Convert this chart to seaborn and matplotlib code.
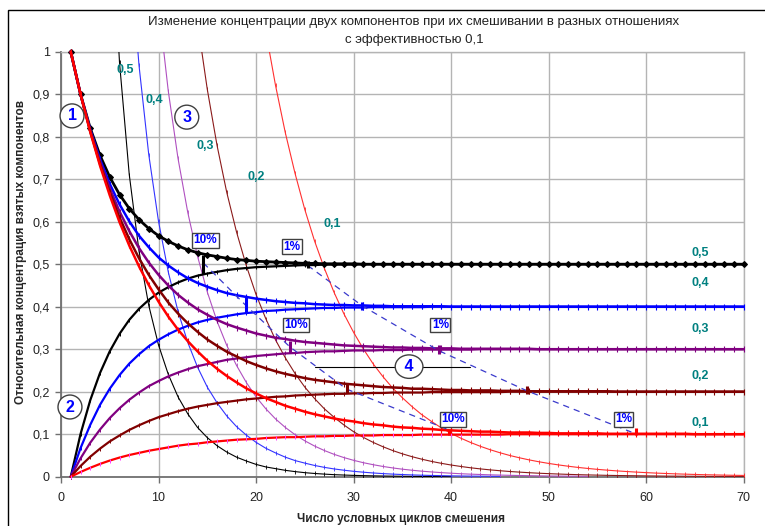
import numpy as np
import matplotlib
matplotlib.use("Agg")
import matplotlib.pyplot as plt
import seaborn as sns
from matplotlib.patches import Rectangle

# --- data ---------------------------------------------------------------
cycles = list(range(1, 71))
ratio_labels = ["0,5", "0,4", "0,3", "0,2", "0,1"]
ratio_colors = ["#000000", "#0000ff", "#800080", "#800000", "#ff0000"]
thin_colors = ["#000000", "#3333ff", "#b050c0", "#8b1a1a", "#ff3030"]

# concentration of the component that starts at 1 (falling curves)
down_05 = [1.000, 0.900, 0.820, 0.756, 0.705, 0.664, 0.631, 0.605, 0.584, 0.567,
           0.554, 0.543, 0.534, 0.527, 0.522, 0.518, 0.514, 0.511, 0.509, 0.507,
           0.506, 0.505, 0.504, 0.503, 0.502, 0.502, 0.501, 0.501, 0.501, 0.501,
           0.500, 0.500, 0.500, 0.500, 0.500, 0.500, 0.500, 0.500, 0.500, 0.500,
           0.500, 0.500, 0.500, 0.500, 0.500, 0.500, 0.500, 0.500, 0.500, 0.500,
           0.500, 0.500, 0.500, 0.500, 0.500, 0.500, 0.500, 0.500, 0.500, 0.500,
           0.500, 0.500, 0.500, 0.500, 0.500, 0.500, 0.500, 0.500, 0.500, 0.500]
down_04 = [1.000, 0.900, 0.817, 0.747, 0.689, 0.641, 0.601, 0.567, 0.540, 0.516,
           0.497, 0.481, 0.467, 0.456, 0.447, 0.439, 0.432, 0.427, 0.423, 0.419,
           0.416, 0.413, 0.411, 0.409, 0.408, 0.406, 0.405, 0.404, 0.404, 0.403,
           0.403, 0.402, 0.402, 0.401, 0.401, 0.401, 0.401, 0.401, 0.401, 0.400,
           0.400, 0.400, 0.400, 0.400, 0.400, 0.400, 0.400, 0.400, 0.400, 0.400,
           0.400, 0.400, 0.400, 0.400, 0.400, 0.400, 0.400, 0.400, 0.400, 0.400,
           0.400, 0.400, 0.400, 0.400, 0.400, 0.400, 0.400, 0.400, 0.400, 0.400]
down_03 = [1.000, 0.900, 0.814, 0.741, 0.678, 0.624, 0.578, 0.538, 0.504, 0.475,
           0.450, 0.428, 0.410, 0.394, 0.381, 0.369, 0.359, 0.351, 0.344, 0.337,
           0.332, 0.327, 0.324, 0.320, 0.317, 0.315, 0.313, 0.311, 0.309, 0.308,
           0.307, 0.306, 0.305, 0.304, 0.304, 0.303, 0.303, 0.302, 0.302, 0.302,
           0.301, 0.301, 0.301, 0.301, 0.301, 0.301, 0.301, 0.301, 0.300, 0.300,
           0.300, 0.300, 0.300, 0.300, 0.300, 0.300, 0.300, 0.300, 0.300, 0.300,
           0.300, 0.300, 0.300, 0.300, 0.300, 0.300, 0.300, 0.300, 0.300, 0.300]
down_02 = [1.000, 0.900, 0.813, 0.736, 0.669, 0.610, 0.559, 0.514, 0.475, 0.441,
           0.410, 0.384, 0.361, 0.341, 0.323, 0.308, 0.294, 0.283, 0.272, 0.263,
           0.255, 0.248, 0.242, 0.237, 0.232, 0.228, 0.225, 0.222, 0.219, 0.217,
           0.215, 0.213, 0.211, 0.210, 0.209, 0.207, 0.207, 0.206, 0.205, 0.204,
           0.204, 0.203, 0.203, 0.203, 0.202, 0.202, 0.202, 0.201, 0.201, 0.201,
           0.201, 0.201, 0.201, 0.201, 0.201, 0.201, 0.200, 0.200, 0.200, 0.200,
           0.200, 0.200, 0.200, 0.200, 0.200, 0.200, 0.200, 0.200, 0.200, 0.200]
down_01 = [1.000, 0.900, 0.811, 0.732, 0.662, 0.599, 0.544, 0.495, 0.451, 0.412,
           0.377, 0.346, 0.319, 0.295, 0.273, 0.254, 0.237, 0.222, 0.208, 0.196,
           0.185, 0.176, 0.167, 0.160, 0.153, 0.147, 0.142, 0.137, 0.133, 0.130,
           0.126, 0.123, 0.121, 0.118, 0.116, 0.115, 0.113, 0.112, 0.110, 0.109,
           0.108, 0.107, 0.106, 0.106, 0.105, 0.104, 0.104, 0.104, 0.103, 0.103,
           0.102, 0.102, 0.102, 0.102, 0.102, 0.101, 0.101, 0.101, 0.101, 0.101,
           0.101, 0.101, 0.101, 0.101, 0.100, 0.100, 0.100, 0.100, 0.100, 0.100]

# concentration of the component that starts at 0 (rising curves)
up_05 = [0.000, 0.100, 0.180, 0.244, 0.295, 0.336, 0.369, 0.395, 0.416, 0.433,
         0.446, 0.457, 0.466, 0.473, 0.478, 0.482, 0.486, 0.489, 0.491, 0.493,
         0.494, 0.495, 0.496, 0.497, 0.498, 0.498, 0.499, 0.499, 0.499, 0.499,
         0.500, 0.500, 0.500, 0.500, 0.500, 0.500, 0.500, 0.500, 0.500, 0.500,
         0.500, 0.500, 0.500, 0.500, 0.500, 0.500, 0.500, 0.500, 0.500, 0.500,
         0.500, 0.500, 0.500, 0.500, 0.500, 0.500, 0.500, 0.500, 0.500, 0.500,
         0.500, 0.500, 0.500, 0.500, 0.500, 0.500, 0.500, 0.500, 0.500, 0.500]
up_04 = [0.000, 0.067, 0.122, 0.169, 0.207, 0.239, 0.266, 0.288, 0.307, 0.322,
         0.335, 0.346, 0.355, 0.363, 0.369, 0.374, 0.378, 0.382, 0.385, 0.387,
         0.390, 0.391, 0.393, 0.394, 0.395, 0.396, 0.397, 0.397, 0.398, 0.398,
         0.398, 0.399, 0.399, 0.399, 0.399, 0.399, 0.399, 0.400, 0.400, 0.400,
         0.400, 0.400, 0.400, 0.400, 0.400, 0.400, 0.400, 0.400, 0.400, 0.400,
         0.400, 0.400, 0.400, 0.400, 0.400, 0.400, 0.400, 0.400, 0.400, 0.400,
         0.400, 0.400, 0.400, 0.400, 0.400, 0.400, 0.400, 0.400, 0.400, 0.400]
up_03 = [0.000, 0.043, 0.080, 0.111, 0.138, 0.161, 0.181, 0.198, 0.213, 0.225,
         0.236, 0.245, 0.253, 0.260, 0.265, 0.270, 0.275, 0.278, 0.281, 0.284,
         0.286, 0.288, 0.290, 0.291, 0.293, 0.294, 0.295, 0.295, 0.296, 0.297,
         0.297, 0.297, 0.298, 0.298, 0.298, 0.299, 0.299, 0.299, 0.299, 0.299,
         0.299, 0.299, 0.300, 0.300, 0.300, 0.300, 0.300, 0.300, 0.300, 0.300,
         0.300, 0.300, 0.300, 0.300, 0.300, 0.300, 0.300, 0.300, 0.300, 0.300,
         0.300, 0.300, 0.300, 0.300, 0.300, 0.300, 0.300, 0.300, 0.300, 0.300]
up_02 = [0.000, 0.025, 0.047, 0.066, 0.083, 0.097, 0.110, 0.121, 0.131, 0.140,
         0.147, 0.154, 0.160, 0.165, 0.169, 0.173, 0.176, 0.179, 0.182, 0.184,
         0.186, 0.188, 0.189, 0.191, 0.192, 0.193, 0.194, 0.195, 0.195, 0.196,
         0.196, 0.197, 0.197, 0.198, 0.198, 0.198, 0.198, 0.199, 0.199, 0.199,
         0.199, 0.199, 0.199, 0.199, 0.199, 0.200, 0.200, 0.200, 0.200, 0.200,
         0.200, 0.200, 0.200, 0.200, 0.200, 0.200, 0.200, 0.200, 0.200, 0.200,
         0.200, 0.200, 0.200, 0.200, 0.200, 0.200, 0.200, 0.200, 0.200, 0.200]
up_01 = [0.000, 0.011, 0.021, 0.030, 0.038, 0.045, 0.051, 0.056, 0.061, 0.065,
         0.069, 0.073, 0.076, 0.078, 0.081, 0.083, 0.085, 0.087, 0.088, 0.089,
         0.091, 0.092, 0.093, 0.093, 0.094, 0.095, 0.095, 0.096, 0.096, 0.097,
         0.097, 0.097, 0.098, 0.098, 0.098, 0.098, 0.099, 0.099, 0.099, 0.099,
         0.099, 0.099, 0.099, 0.099, 0.099, 0.100, 0.100, 0.100, 0.100, 0.100,
         0.100, 0.100, 0.100, 0.100, 0.100, 0.100, 0.100, 0.100, 0.100, 0.100,
         0.100, 0.100, 0.100, 0.100, 0.100, 0.100, 0.100, 0.100, 0.100, 0.100]

# relative difference between the two components (thin curves), from first cycle shown
thin_first_cycle = [5, 7, 9, 13, 20]
thin_05 = [1.388, 0.975, 0.711, 0.531, 0.403, 0.310, 0.241, 0.188, 0.148, 0.116,
           0.092, 0.073, 0.058, 0.046, 0.037, 0.029, 0.023, 0.019, 0.015, 0.012,
           0.0095, 0.0076, 0.0061, 0.0048, 0.0039, 0.0031, 0.0025, 0.0020, 0.0016, 0.0013,
           0.0010, 0.0008, 0.0006, 0.0005, 0.0004, 0.0003]
thin_04 = [1.259, 0.968, 0.758, 0.601, 0.482, 0.389, 0.316, 0.258, 0.211, 0.174,
           0.143, 0.118, 0.098, 0.081, 0.067, 0.056, 0.046, 0.038, 0.032, 0.0265,
           0.0220, 0.0183, 0.0153, 0.0127, 0.0106, 0.0088, 0.0073, 0.0061, 0.0051, 0.0042,
           0.0035, 0.0029, 0.0025, 0.0020, 0.0017, 0.0014, 0.0012, 0.0010, 0.0008]
thin_03 = [1.370, 1.110, 0.908, 0.749, 0.622, 0.519, 0.435, 0.366, 0.309, 0.262,
           0.222, 0.188, 0.160, 0.136, 0.116, 0.099, 0.0845, 0.0722, 0.0617, 0.0527,
           0.0451, 0.0386, 0.0330, 0.0283, 0.0242, 0.0207, 0.0177, 0.0152, 0.0130, 0.0112,
           0.0096, 0.0082, 0.0070, 0.0060, 0.0052, 0.0044, 0.0038, 0.0032, 0.0028, 0.0024,
           0.0020, 0.0017, 0.0015, 0.0013, 0.0011, 0.0009]
thin_02 = [1.261, 1.070, 0.912, 0.780, 0.669, 0.576, 0.497, 0.429, 0.372, 0.322,
           0.280, 0.243, 0.211, 0.184, 0.160, 0.140, 0.122, 0.106, 0.0927, 0.0809,
           0.0707, 0.0617, 0.0539, 0.0471, 0.0412, 0.0360, 0.0315, 0.0275, 0.0241, 0.0210,
           0.0184, 0.0161, 0.0141, 0.0123, 0.0108, 0.0094, 0.0082, 0.0072, 0.0063, 0.0055,
           0.0048, 0.0042, 0.0037, 0.0032, 0.0028, 0.0025, 0.0022, 0.0019, 0.0017, 0.0014,
           0.0013, 0.0011, 0.0010, 0.0008, 0.0007, 0.0006, 0.0006, 0.0005]
thin_01 = [1.194, 1.048, 0.921, 0.810, 0.714, 0.629, 0.555, 0.491, 0.434, 0.384,
           0.340, 0.301, 0.266, 0.236, 0.209, 0.186, 0.165, 0.146, 0.130, 0.115,
           0.102, 0.0907, 0.0806, 0.0716, 0.0636, 0.0565, 0.0501, 0.0446, 0.0396, 0.0352,
           0.0313, 0.0278, 0.0247, 0.0219, 0.0195, 0.0173, 0.0154, 0.0137, 0.0122, 0.0108,
           0.0096, 0.0085, 0.0076, 0.0067, 0.0060, 0.0053, 0.0047, 0.0042, 0.0037, 0.0033,
           0.0030]

# cycles where the difference drops to 10% and to 1%
p10_x = [14.6, 19.0, 23.5, 29.3, 39.8]
p10_y = [0.503, 0.402, 0.305, 0.206, 0.110]
bar10_lo = [0.477, 0.385, 0.292, 0.197, 0.099]
bar10_hi = [0.522, 0.423, 0.320, 0.221, 0.110]
p1_x = [25.3, 30.9, 38.8, 47.8, 58.5]
p1_y = [0.497, 0.402, 0.296, 0.202, 0.105]
bar1_x = [25.3, 30.9, 38.8, 47.8, 59.0]
bar1_lo = [0.491, 0.393, 0.289, 0.195, 0.097]
bar1_hi = [0.508, 0.410, 0.311, 0.213, 0.114]

callout4_x = [26.0, 41.9]
callout4_y = [0.259, 0.259]

downs = [down_05, down_04, down_03, down_02, down_01]
ups = [up_05, up_04, up_03, up_02, up_01]
thins = [thin_05, thin_04, thin_03, thin_02, thin_01]

# --- figure ----------------------------------------------------------------
sns.set_theme(style="white")
plt.rcParams["font.family"] = ["Liberation Sans", "DejaVu Sans"]

W, H = 765, 526
fig = plt.figure(figsize=(W / 100, H / 100), dpi=100)
ax = fig.add_axes([61 / W, 1 - 476.7 / H, (743.5 - 61) / W, (476.7 - 51.7) / H])

grid_col = "#b4b4b4"
ax.set_xlim(0, 70)
ax.set_ylim(0, 1)
ax.set_xticks(np.arange(0, 71, 10))
yt = np.round(np.arange(0, 1.01, 0.1), 1)
ax.set_yticks(yt)
ax.set_yticklabels([("%g" % v).replace(".", ",") for v in yt])
ax.grid(True, color=grid_col, lw=1)
ax.set_axisbelow(True)
for s in ["top", "right"]:
    ax.spines[s].set_color(grid_col)
    ax.spines[s].set_linewidth(1)
for s in ["left", "bottom"]:
    ax.spines[s].set_color("#707070")
    ax.spines[s].set_linewidth(1.3)
ax.tick_params(axis="both", direction="out", length=4, width=1, color="#707070",
               labelsize=9, labelcolor="#222222", pad=4,
               left=True, bottom=True)
ax.tick_params(axis="x", pad=7)

# thin curves
for first, vals, col in zip(thin_first_cycle, thins, thin_colors):
    xs = np.arange(first, first + len(vals))
    sns.lineplot(x=xs, y=vals, ax=ax, color=col, lw=0.8, marker="|",
                 markersize=2.5, markeredgecolor=col, markeredgewidth=0.6,
                 estimator=None, zorder=3)

# rising curves
for i, (vals, col) in enumerate(zip(ups, ratio_colors)):
    mec = "#ff40ff" if i == 4 else col
    sns.lineplot(x=cycles, y=vals, ax=ax, color=col, lw=1.6, marker="|",
                 markersize=3, markeredgecolor=mec, markeredgewidth=0.7,
                 estimator=None, zorder=4, clip_on=False)

# falling curves
for i, (vals, col) in enumerate(zip(downs, ratio_colors)):
    if i == 0:
        mk, ms, lw = "D", 3.0, 2.0
    else:
        mk, ms, lw = "|", 4, 1.8
    sns.lineplot(x=cycles, y=vals, ax=ax, color=col, lw=lw, marker=mk,
                 markersize=ms, markeredgecolor=col, markerfacecolor=col,
                 markeredgewidth=0.8, estimator=None, zorder=5, clip_on=False)

# 10% and 1% guide lines
sns.lineplot(x=p10_x, y=p10_y, ax=ax, color="#3a3acc", lw=0.9, sort=False,
             linestyle=(0, (5, 4)), estimator=None, zorder=6)
sns.lineplot(x=p1_x, y=p1_y, ax=ax, color="#3a3acc", lw=0.9, sort=False,
             linestyle=(0, (5, 4)), estimator=None, zorder=6)
ax.vlines(p10_x, bar10_lo, bar10_hi, colors=ratio_colors, lw=2.2, zorder=7)
ax.vlines(bar1_x, bar1_lo, bar1_hi, colors=ratio_colors, lw=2.2, zorder=7)

# annotation boxes
box = dict(boxstyle="square,pad=0.12", fc="white", ec="#404040", lw=1)
pct_font = dict(color="#0000ff", fontsize=8.5, fontweight="bold", ha="center",
                va="center", bbox=box, zorder=9)
ax.text(14.8, 0.556, "10%", **pct_font)
ax.text(23.7, 0.541, "1%", **pct_font)
ax.text(24.1, 0.357, "10%", **pct_font)
ax.text(38.9, 0.357, "1%", **pct_font)
ax.text(40.2, 0.135, "10%", **pct_font)
ax.text(57.7, 0.135, "1%", **pct_font)

circ_font = dict(color="#0000ff", fontsize=11.5, fontweight="bold", ha="center",
                 va="center", zorder=9)
circ_box = dict(boxstyle="circle,pad=0.28", fc="white", ec="#404040", lw=1)
ax.text(1.13, 0.849, "1", bbox=circ_box, **circ_font)
ax.text(0.92, 0.164, "2", bbox=circ_box, **circ_font)
ax.text(12.9, 0.846, "3", bbox=circ_box, **circ_font)
ax.plot(callout4_x, callout4_y, color="black", lw=0.8, zorder=8)
ax.text(35.7, 0.259, " 4 ", bbox=dict(boxstyle="ellipse,pad=0.05", fc="white",
                                        ec="#404040", lw=1), **circ_font)

teal = dict(color="#008080", fontsize=9, fontweight="bold", ha="center",
            va="center", zorder=9)
left_pos = [(6.56, 0.957), (9.54, 0.886), (14.77, 0.778), (20.0, 0.705), (27.8, 0.595)]
right_y = [0.527, 0.455, 0.347, 0.237, 0.127]
for lbl, (tx, ty), ry in zip(ratio_labels, left_pos, right_y):
    ax.text(tx, ty, lbl, **teal)
    ax.text(65.6, ry, lbl, **teal)

# titles and axis labels
fig.text(414 / W, 1 - 22.5 / H,
         "Изменение концентрации двух компонентов при их смешивании в разных отношениях",
         ha="center", va="center", fontsize=9.5, color="#222222")
fig.text(414 / W, 1 - 40 / H, "с эффективностью 0,1",
         ha="center", va="center", fontsize=9.5, color="#222222")
fig.text(401 / W, 1 - 519 / H, "Число условных циклов смешения",
         ha="center", va="center", fontsize=8.5, fontweight="bold")
fig.text(21 / W, 1 - 252 / H, "Относительная концентрация взятых компонентов",
         ha="center", va="center", rotation=90, fontsize=8.5, fontweight="bold")

# chart area frame
fig.add_artist(Rectangle((8 / W, -0.2), 1.2, 1.2 - 10 / H, transform=fig.transFigure,
                         fill=False, ec="black", lw=1))

fig.savefig("out.png", dpi=100)
